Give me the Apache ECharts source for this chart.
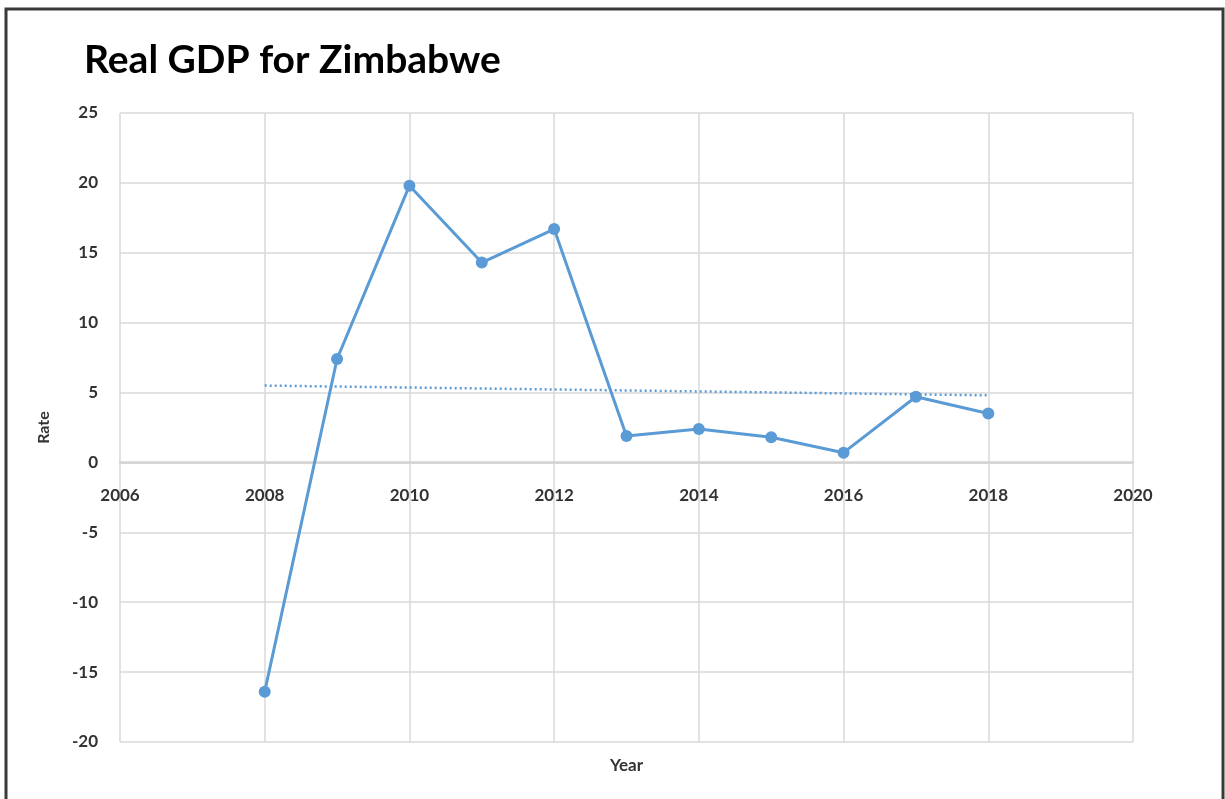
<!DOCTYPE html>
<html>
<head>
<meta charset="utf-8">
<script src="https://cdn.jsdelivr.net/npm/echarts@6/dist/echarts.min.js"></script>
<style>
  html, body { margin: 0; padding: 0; background: #ffffff; overflow: hidden; }
  #chart { width: 1225px; height: 799px; }
</style>
</head>
<body>
<div id="chart"></div>
<script>
// Data
const years = [2008, 2009, 2010, 2011, 2012, 2013, 2014, 2015, 2016, 2017, 2018];
const gdpRate = [-16.4, 7.4, 19.8, 14.3, 16.7, 1.9, 2.4, 1.8, 0.7, 4.7, 3.5];
const trendYears = [2008, 2018];
const trendValues = [5.5, 4.8];
const xTicks = [2006, 2008, 2010, 2012, 2014, 2016, 2018, 2020];
const yTicks = [-20, -15, -10, -5, 0, 5, 10, 15, 20, 25];

const FONT = 'Lato, "Open Sans", sans-serif';
const chart = echarts.init(document.getElementById('chart'), null, { renderer: 'canvas' });

chart.setOption({
  animation: false,
  backgroundColor: '#ffffff',
  title: {
    text: 'Real GDP for Zimbabwe',
    left: 79,
    top: 36,
    textStyle: { fontFamily: FONT, fontWeight: 'bold', fontSize: 39, color: '#000000' }
  },
  grid: { left: 120, right: 92, top: 113, bottom: 57, containLabel: false },
  xAxis: [{
    type: 'value',
    min: xTicks[0],
    max: xTicks[xTicks.length - 1],
    interval: 2,
    axisLine: { onZero: false, lineStyle: { color: '#d4d4d4', width: 2.5 } },
    axisTick: { show: false },
    axisLabel: {
      margin: 25,
      fontFamily: FONT, fontWeight: 'bold', fontSize: 17, color: '#333333',
      formatter: v => String(v)
    },
    splitLine: { show: true, lineStyle: { color: '#d9d9d9', width: 1.5 } }
  }],
  yAxis: {
    type: 'value',
    min: yTicks[0],
    max: yTicks[yTicks.length - 1],
    interval: 5,
    name: 'Rate',
    nameLocation: 'middle',
    nameGap: 68,
    nameRotate: 90,
    nameTextStyle: { fontFamily: FONT, fontWeight: 'bold', fontSize: 16, color: '#333333' },
    axisLine: { show: false, onZero: false },
    axisTick: { show: false },
    axisLabel: { margin: 22, fontFamily: FONT, fontWeight: 'bold', fontSize: 17, color: '#333333' },
    splitLine: { show: true, lineStyle: { color: '#d9d9d9', width: 1.5 } }
  },
  series: [
    {
      name: 'Trend',
      type: 'line',
      data: trendYears.map((y, i) => [y, trendValues[i]]),
      symbol: 'none',
      lineStyle: { color: '#5b9bd5', width: 2.5, type: [2, 3] },
      z: 2
    },
    {
      name: 'Real GDP',
      type: 'line',
      data: years.map((y, i) => [y, gdpRate[i]]),
      symbol: 'circle',
      symbolSize: 12,
      itemStyle: { color: '#5b9bd5' },
      lineStyle: { color: '#5b9bd5', width: 3 },
      z: 3
    }
  ]
});

// Place the x axis on the y = 0 line (Excel style), and the "Year" title below the plot
const bottomY = chart.convertToPixel({ gridIndex: 0 }, [xTicks[0], yTicks[0]])[1];
const zeroY = chart.convertToPixel({ gridIndex: 0 }, [xTicks[0], 0])[1];
const midX = chart.convertToPixel({ gridIndex: 0 }, [(xTicks[0] + xTicks[xTicks.length - 1]) / 2, 0])[0];
chart.setOption({
  xAxis: [{ offset: -(bottomY - zeroY) }],
  graphic: [{
    type: 'rect',
    shape: { x: 6, y: 9, width: 1217, height: 900 },
    style: { fill: 'none', stroke: '#3a3a3a', lineWidth: 3 },
    silent: true
  }, {
    type: 'text',
    x: midX,
    y: bottomY + 24,
    style: { text: 'Year', fontFamily: FONT, fontWeight: 'bold', fontSize: 17, fill: '#333333',
      textAlign: 'center', textVerticalAlign: 'middle' },
    silent: true
  }]
});
</script>
</body>
</html>
